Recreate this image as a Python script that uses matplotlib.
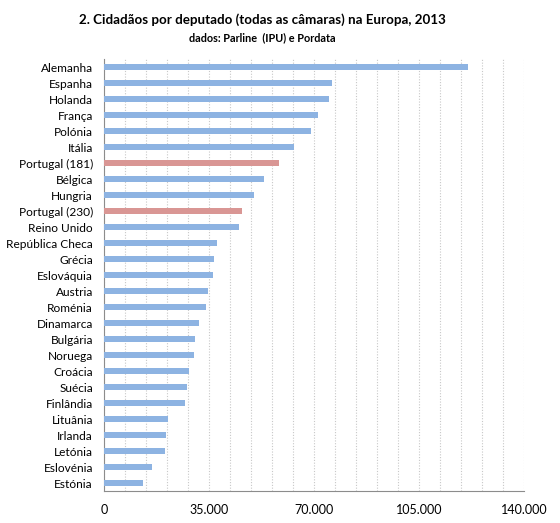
import matplotlib.pyplot as plt
from matplotlib.ticker import MultipleLocator, FuncFormatter

paises = ['Alemanha', 'Espanha', 'Holanda', 'França', 'Polónia', 'Itália',
          'Portugal (181)', 'Bélgica', 'Hungria', 'Portugal (230)', 'Reino Unido',
          'República Checa', 'Grécia', 'Eslováquia', 'Austria', 'Roménia',
          'Dinamarca', 'Bulgária', 'Noruega', 'Croácia', 'Suécia', 'Finlândia',
          'Lituânia', 'Irlanda', 'Letónia', 'Eslovénia', 'Estónia']
cidadaos = [121300, 75900, 75000, 71200, 69000, 63300, 58300, 53300, 49900,
            46100, 45100, 37600, 36800, 36200, 34700, 34000, 31600, 30300,
            30100, 28400, 27500, 27000, 21200, 20600, 20300, 15900, 13000]

plt.rcParams['font.family'] = ['Lato', 'DejaVu Sans']

cores = ['#d99694' if p.startswith('Portugal') else '#8db3e2' for p in paises]

fig = plt.figure(figsize=(5.6, 5.23), dpi=100)
ax = fig.add_axes([104 / 560, 1 - 491 / 523, 420 / 560, 432 / 523])

y = list(range(len(paises)))
ax.barh(y, cidadaos, height=0.38, color=cores, zorder=3)
ax.set_ylim(len(paises) - 0.5, -0.5)
ax.set_yticks(y)
ax.set_yticklabels(paises, fontsize=8.6)
ax.set_xlim(0, 140000)
ax.xaxis.set_major_locator(MultipleLocator(35000))
ax.xaxis.set_minor_locator(MultipleLocator(7000))
ax.xaxis.set_major_formatter(FuncFormatter(lambda v, p: f'{int(v):,}'.replace(',', '.')))
ax.tick_params(axis='x', labelsize=9, length=0, pad=9, which='both')
ax.tick_params(axis='y', length=0, pad=8)
ax.grid(axis='x', which='both', color='#c8c8c8', linestyle=(0, (1, 1.5)), linewidth=0.8, zorder=0)
for s in ['top', 'right']:
    ax.spines[s].set_visible(False)
ax.spines['left'].set_color('#8c8c8c')
ax.spines['bottom'].set_color('#8c8c8c')

fig.text(262 / 560, 1 - 20 / 523, '2. Cidadãos por deputado (todas as câmaras) na Europa, 2013',
         ha='center', va='center', fontsize=9.6, fontweight='bold')
fig.text(262 / 560, 1 - 38 / 523, 'dados: Parline  (IPU) e Pordata',
         ha='center', va='center', fontsize=7.8, fontweight='bold')

plt.savefig('out.png')
plt.close(fig)
